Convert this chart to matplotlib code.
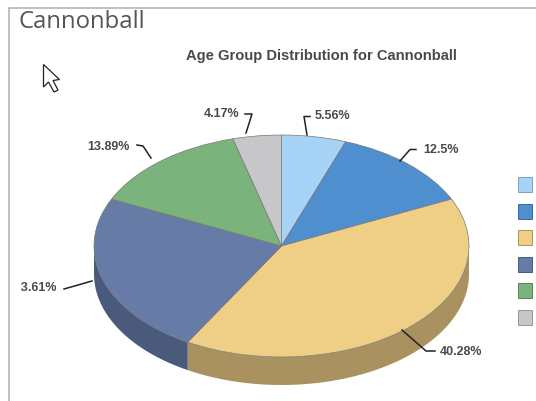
import numpy as np
import matplotlib
matplotlib.use("Agg")
import matplotlib.pyplot as plt
from matplotlib.patches import Polygon, Rectangle

# ---- data ----
values = [5.56, 12.5, 40.28, 23.61, 13.89, 4.17]
labels = ["5.56%", "12.5%", "40.28%", "23.61%", "13.89%", "4.17%"]
colors = ["#a6d3f6", "#4f8fcf", "#eecf85", "#667ba6", "#7ab37b", "#c7c6ca"]
wall_colors = ["#7f9fbc", "#3b6a9a", "#a9925f", "#4a5a7c", "#5a855b", "#949397"]
title = "Age Group Distribution for Cannonball"
heading = "Cannonball"

# ---- layout (pixels, y from top) ----
W, H = 536, 401
CX, CY, RX, RY, DEPTH = 281.5, 246.0, 187.5, 111.0, 28.0
label_pos = [(315, 116, "left"), (423, 150, "left"), (440, 352, "left"),
             (57, 288, "right"), (130, 147, "right"), (239, 114, "right")]
leaders = [[(307, 135), (304, 116.5), (310, 116.5)],
           [(400, 161), (410, 149.5), (416, 149.5)],
           [(402, 330), (426, 351), (435, 351)],
           [(92, 281), (78, 285), (64, 289)],
           [(151, 158), (143, 146), (137, 145)],
           [(246, 133), (252, 114), (245, 114)]]
legend_y0, legend_step = 177.0, 26.6

fig = plt.figure(figsize=(W / 100, H / 100), dpi=100, facecolor="white")

# pie axes stretched to the ellipse of the top face
ax = fig.add_axes([(CX - RX) / W, 1 - (CY + RY) / H, 2 * RX / W, 2 * RY / H], zorder=1)
ax.patch.set_alpha(0)
ax.set_clip_on(False)

# side wall: only the front half of the rim is seen
d = 2 * DEPTH / (2 * RY)
edges = np.cumsum([0] + values) / sum(values) * 360
for a0, a1, c in zip(edges[:-1], edges[1:], wall_colors):
    lo, hi = max(a0, 90), min(a1, 270)
    if hi <= lo:
        continue
    t = np.radians(np.linspace(lo, hi, 80))
    x, y = np.sin(t), np.cos(t)
    pts = np.r_[np.c_[x, y], np.c_[x[::-1], y[::-1] - d]]
    ax.add_patch(Polygon(pts, closed=True, fc=c, ec="none", clip_on=False))

wedges, _ = ax.pie(values, colors=colors, startangle=90, counterclock=False, radius=1,
                   wedgeprops=dict(edgecolor="#777777", linewidth=0.5, clip_on=False))
ax.set_aspect("auto")
ax.set_xlim(-1, 1); ax.set_ylim(-1, 1)
ax.axis("off")

# overlay on top, pixel coordinates
fg = fig.add_axes([0, 0, 1, 1], zorder=2)
fg.set_xlim(0, W); fg.set_ylim(H, 0); fg.axis("off"); fg.patch.set_alpha(0)

# screenshot frame
fg.plot([8.5, 8.5, W], [H, 8.0, 8.0], color="#b5b5b5", lw=1.2, solid_joinstyle="miter")

fg.text(19, 22.5, heading, fontsize=17.2, family="Open Sans", color="#555555", ha="left", va="center")
fg.text(321, 56, title, fontsize=10.6, family="Liberation Sans", fontweight="bold",
        color="#4a4a4a", ha="center", va="center")

# mouse cursor
fg.add_patch(Polygon([(43.5, 64.5), (43.5, 87), (48.5, 82), (54, 92), (58, 90), (53, 80.5), (59.5, 79.5)],
                     closed=True, fc="white", ec="#222222", lw=0.9))

# leaders and labels
clip_rect = Rectangle((21, 0), W, H, transform=fg.transData)
for lab, (x, y, ha), line in zip(labels, label_pos, leaders):
    xs, ys = zip(*line)
    fg.plot(xs, ys, color="#222222", lw=1.1)
    t = fg.text(x, y, lab, fontsize=9.0, family="Liberation Sans", fontweight="bold",
                color="#4a4a4a", ha=ha, va="center")
    t.set_clip_on(True)
    t.set_clip_path(clip_rect)

# legend swatches (names are cut off in the reference)
for i, (c, wc) in enumerate(zip(colors, wall_colors)):
    fg.add_patch(Rectangle((517.5, legend_y0 + i * legend_step), 14.5, 15,
                           fc=c, ec=wc, lw=0.7))

fig.savefig("out.png", dpi=100, facecolor="white")
